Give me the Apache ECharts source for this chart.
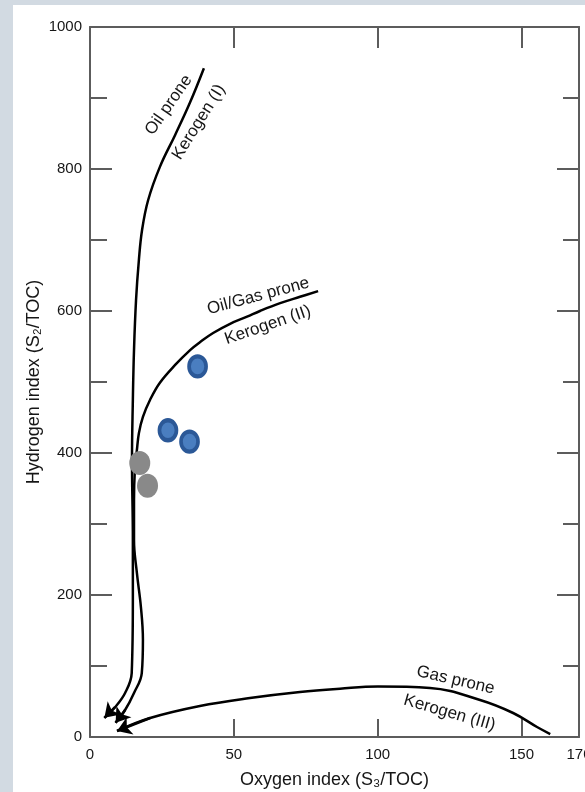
<!DOCTYPE html>
<html>
<head>
<meta charset="utf-8">
<script src="https://cdn.jsdelivr.net/npm/echarts@6/dist/echarts.min.js"></script>
<style>
  html, body { margin: 0; padding: 0; background: #d2dae2; }
  #chart { width: 585px; height: 792px; }
</style>
</head>
<body>
<div id="chart"></div>
<script>
// Maturation pathways of the three kerogen types, [oxygen index, hydrogen index],
// each listed from its start to the arrow tip.
const kerogenI = [
  [39.6, 942], [34.8, 894], [29.6, 848], [24.3, 803], [20.2, 756], [18.1, 714],
  [17.0, 672], [16.0, 615], [15.3, 545], [14.9, 475], [14.6, 390], [14.9, 277],
  [14.9, 193], [14.5, 90], [12.2, 62], [8.7, 42], [5.0, 27]
];
const kerogenII = [
  [79.3, 628], [73.0, 620], [66.1, 611], [59.1, 600], [54.6, 592], [48.7, 582],
  [42.8, 569], [38.2, 556], [34.8, 545], [29.6, 524], [24.3, 499], [20.9, 475],
  [18.4, 451], [17.0, 428], [16.3, 404], [15.6, 376], [15.3, 334], [15.3, 277],
  [16.3, 231], [17.7, 183], [18.4, 137], [18.0, 90], [15.3, 62], [12.2, 38], [8.9, 20]
];
const kerogenIII = [
  [160.0, 4.2], [155.4, 14.1], [147.1, 33.8], [135.6, 52.1], [118.2, 69.0],
  [100.1, 71.0], [86.9, 68.0], [73.0, 63.4], [55.6, 54.9], [38.2, 43.7],
  [20.9, 26.8], [9.4, 8.5]
];

// Samples
const samplesBlue = [[37.4, 522], [27.1, 432], [34.6, 416]];
const samplesGray = [[17.3, 386], [20.0, 354]];

// Axis ticks and labels
const xLabelValues = [0, 50, 100, 150, 170];
const xTickValues = [50, 100, 150];
const yTickValues = [200, 400, 600, 800];

// Pathway captions
const captionTexts = ['Oil prone', 'Kerogen (I)', 'Oil/Gas prone', 'Kerogen (II)', 'Gas prone', 'Kerogen (III)'];

const FONT = 'Liberation Sans, Arial, Helvetica, sans-serif';
const AXIS_COLOR = '#5c5c5c';
const INK = '#000000';
const TEXT = '#161616';

const captionPlacement = [
  { at: [27.4, 890], rotate: 55 },
  { at: [37.8, 866], rotate: 58 },
  { at: [58.5, 621], rotate: 15 },
  { at: [61.8, 580], rotate: 19 },
  { at: [127.1, 80], rotate: -13 },
  { at: [125.0, 34], rotate: -16 }
];

function pathwaySeries(path) {
  const n = path.length;
  return {
    type: 'line',
    data: path,
    smooth: 0.4,
    symbol: 'none',
    silent: true,
    lineStyle: { color: INK, width: 2.5 },
    z: 3,
    markLine: {
      silent: true,
      animation: false,
      symbol: ['none', 'arrow'],
      symbolSize: 14,
      lineStyle: { color: INK, width: 2.5, type: 'solid' },
      label: { show: false },
      emphasis: { disabled: true },
      data: [[{ coord: path[n - 2] }, { coord: path[n - 1] }]]
    }
  };
}

const axisLineStyle = { color: AXIS_COLOR, width: 2 };
const plainNumber = v => String(v);

const chart = echarts.init(document.getElementById('chart'), null, { renderer: 'canvas' });

chart.setOption({
  animation: false,
  backgroundColor: '#d2dae2',
  graphic: [{
    type: 'rect',
    z: -100,
    silent: true,
    shape: { x: 13, y: 5, width: 572, height: 787 },
    style: { fill: '#ffffff' }
  }],
  grid: { left: 90, right: 6, top: 27, bottom: 55, containLabel: false, outerBoundsMode: 'none' },
  xAxis: [{
    type: 'value',
    position: 'bottom',
    min: 0, max: 170, interval: 50,
    name: 'Oxygen index (S\u2083/TOC)',
    nameLocation: 'middle',
    nameGap: 34,
    nameMoveOverlap: false,
    nameTextStyle: { fontSize: 18, color: TEXT, fontFamily: FONT },
    axisLine: { show: true, onZero: false, lineStyle: axisLineStyle },
    axisTick: { show: true, inside: true, length: 18, customValues: xTickValues, lineStyle: axisLineStyle },
    axisLabel: { show: true, customValues: xLabelValues, formatter: plainNumber, fontSize: 15, color: TEXT, margin: 10, fontFamily: FONT },
    splitLine: { show: false }
  }, {
    type: 'value',
    position: 'top',
    min: 0, max: 170, interval: 50,
    axisLine: { show: true, onZero: false, lineStyle: axisLineStyle },
    axisTick: { show: true, inside: true, length: 21, customValues: xTickValues, lineStyle: axisLineStyle },
    axisLabel: { show: false },
    splitLine: { show: false }
  }],
  yAxis: [{
    type: 'value',
    position: 'left',
    min: 0, max: 1000, interval: 200,
    name: 'Hydrogen index (S\u2082/TOC)',
    nameLocation: 'middle',
    nameGap: 47,
    nameMoveOverlap: false,
    nameTextStyle: { fontSize: 18, color: TEXT, fontFamily: FONT },
    axisLine: { show: true, onZero: false, lineStyle: axisLineStyle },
    axisTick: { show: true, inside: true, length: 22, customValues: yTickValues, lineStyle: axisLineStyle },
    minorTick: { show: true, splitNumber: 2, length: 17, lineStyle: axisLineStyle },
    axisLabel: { show: true, formatter: plainNumber, fontSize: 15, color: TEXT, margin: 8, fontFamily: FONT },
    splitLine: { show: false },
    minorSplitLine: { show: false }
  }, {
    type: 'value',
    position: 'right',
    min: 0, max: 1000, interval: 200,
    axisLine: { show: true, onZero: false, lineStyle: axisLineStyle },
    axisTick: { show: true, inside: true, length: 22, customValues: yTickValues, lineStyle: axisLineStyle },
    minorTick: { show: true, splitNumber: 2, length: 16, lineStyle: axisLineStyle },
    axisLabel: { show: false },
    splitLine: { show: false },
    minorSplitLine: { show: false }
  }],
  series: [
    pathwaySeries(kerogenI),
    pathwaySeries(kerogenII),
    pathwaySeries(kerogenIII),
    {
      type: 'scatter',
      silent: true,
      z: 4,
      symbol: 'circle',
      symbolSize: [21, 24],
      itemStyle: { color: '#898989', opacity: 1 },
      data: samplesGray
    },
    {
      type: 'scatter',
      silent: true,
      z: 4,
      symbol: 'circle',
      symbolSize: [17, 20],
      itemStyle: { color: '#4a7ec0', borderColor: '#2b5897', borderWidth: 4, opacity: 1 },
      data: samplesBlue
    },
    {
      type: 'scatter',
      silent: true,
      z: 5,
      symbolSize: 0,
      itemStyle: { opacity: 1 },
      data: captionTexts.map((text, i) => ({
        name: text,
        value: captionPlacement[i].at,
        label: { rotate: captionPlacement[i].rotate }
      })),
      label: {
        show: true,
        position: 'inside',
        formatter: '{b}',
        fontSize: 17,
        color: TEXT,
        textBorderWidth: 0,
        fontFamily: FONT
      }
    }
  ]
});
</script>
</body>
</html>
